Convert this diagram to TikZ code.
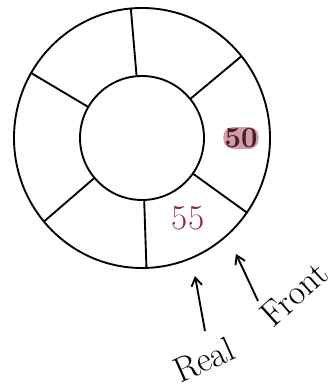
\documentclass[tikz,border=0pt]{standalone}
\usetikzlibrary{calc,arrows.meta}
\definecolor{inkred}{RGB}{150,35,60}
\definecolor{inkdark}{RGB}{70,30,35}
\tikzset{
  hand/.style={font=\fontsize{30}{32}\selectfont},
  label/.style={hand,inner sep=0pt},
  ptr/.style={-{Straight Barb[length=7pt,width=9pt]}}
}
\begin{document}
\begin{tikzpicture}[x=0.03cm,y=-0.03cm,line width=1.6pt,every node/.style={hand}]
\useasboundingbox (0,0) rectangle (336,392);
% Circular queue: outer ring, hole, six slots
\coordinate (c) at (142,138);
\draw (c) ellipse [x radius=128, y radius=130];
\draw (c) circle [radius=62];
\foreach \a in {95,150,220,272,325,39}
  \draw ($(c)+(-\a:62)$) -- ($(c)+(-\a:128 and 130)$);
% slot contents
\node[text=inkred] (rearval) at (188,218) {55};
\node[text=inkdark,fill=inkred!45,rounded corners=8pt,inner sep=1pt,font=\Huge\bfseries] (frontval) at (241,138) {50};
% pointers
\node[label,rotate=24] (rear) at (204,360) {Real};
\node[label,rotate=42] (front) at (294,294) {Front};
\coordinate (reartail) at (205,331);
\coordinate (reartip) at (195,276);
\coordinate (fronttail) at (258,301);
\coordinate (fronttip) at (236,254);
\draw[ptr] (reartail) -- (reartip);
\draw[ptr] (fronttail) -- (fronttip);
\end{tikzpicture}
\end{document}
